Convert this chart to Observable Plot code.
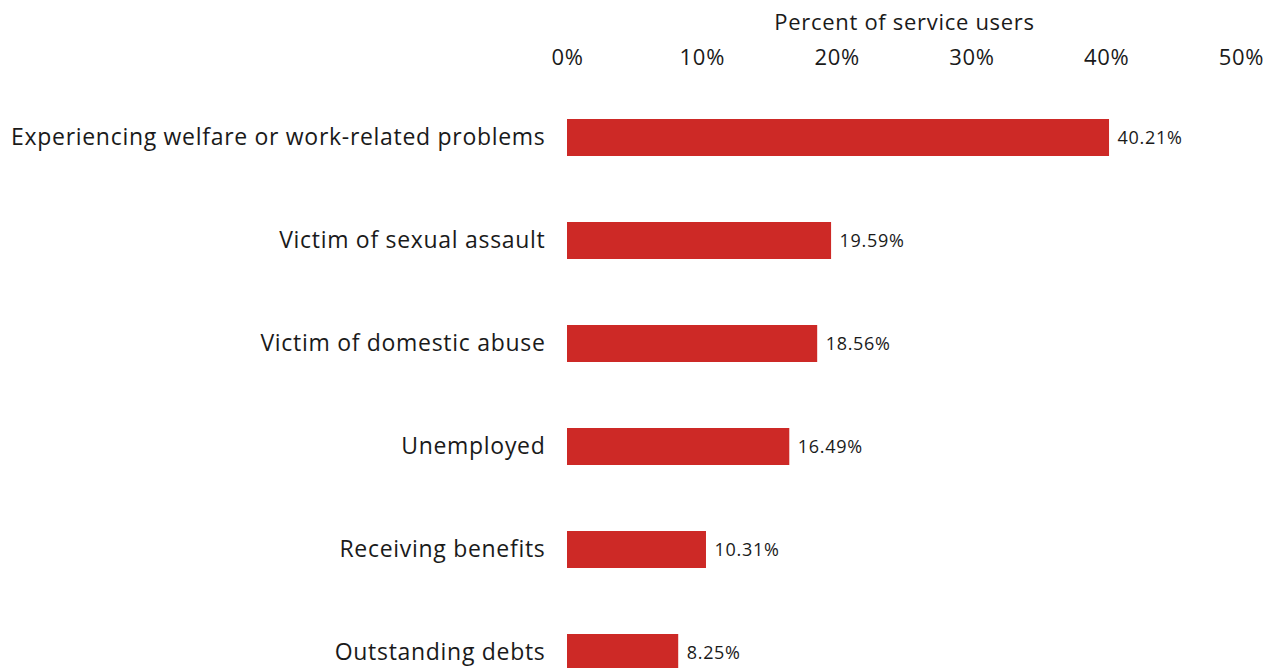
<!DOCTYPE html>
<html>
<head>
<meta charset="utf-8">
<script src="https://cdn.jsdelivr.net/npm/d3@7"></script>
<script src="https://cdn.jsdelivr.net/npm/@observablehq/plot@0.6"></script>
<style>
  html, body { margin: 0; padding: 0; background: #fff; }
  #chart svg { display: block; }
  #chart svg text { letter-spacing: 0.7px; }
</style>
</head>
<body>
<div id="chart"></div>
<script>
const categories = [
  "Experiencing welfare or work-related problems",
  "Victim of sexual assault",
  "Victim of domestic abuse",
  "Unemployed",
  "Receiving benefits",
  "Outstanding debts"
];
const values = [40.21, 19.59, 18.56, 16.49, 10.31, 8.25];
const xTicks = [0, 10, 20, 30, 40, 50];

const data = categories.map((c, i) => ({category: c, value: values[i]}));

const chart = Plot.plot({
  width: 1278,
  height: 705,
  marginLeft: 567,
  marginRight: 37,
  marginTop: 85,
  marginBottom: 0,
  style: {fontFamily: "'Open Sans', sans-serif", background: "#fff", color: "#1a1a1a"},
  x: {domain: [0, 50]},
  y: {domain: categories, paddingInner: 0.641, paddingOuter: 0.33},
  marks: [
    Plot.axisX({
      anchor: "top",
      ticks: xTicks,
      tickFormat: d => d + "%",
      tickSize: 0,
      tickPadding: 21,
      fontSize: 22,
      label: "Percent of service users",
      labelAnchor: "center",
      labelArrow: false,
      labelOffset: 71
    }),
    Plot.axisY({
      tickSize: 0,
      tickPadding: 22,
      fontSize: 23,
      label: null
    }),
    Plot.barX(data, {x: "value", y: "category", fill: "#cd2926"}),
    Plot.text(data, {
      x: "value", y: "category",
      text: d => d.value.toFixed(2) + "%",
      textAnchor: "start", dx: 8, fontSize: 18, fill: "#1a1a1a"
    })
  ]
});
document.getElementById("chart").appendChild(chart);
</script>
</body>
</html>
